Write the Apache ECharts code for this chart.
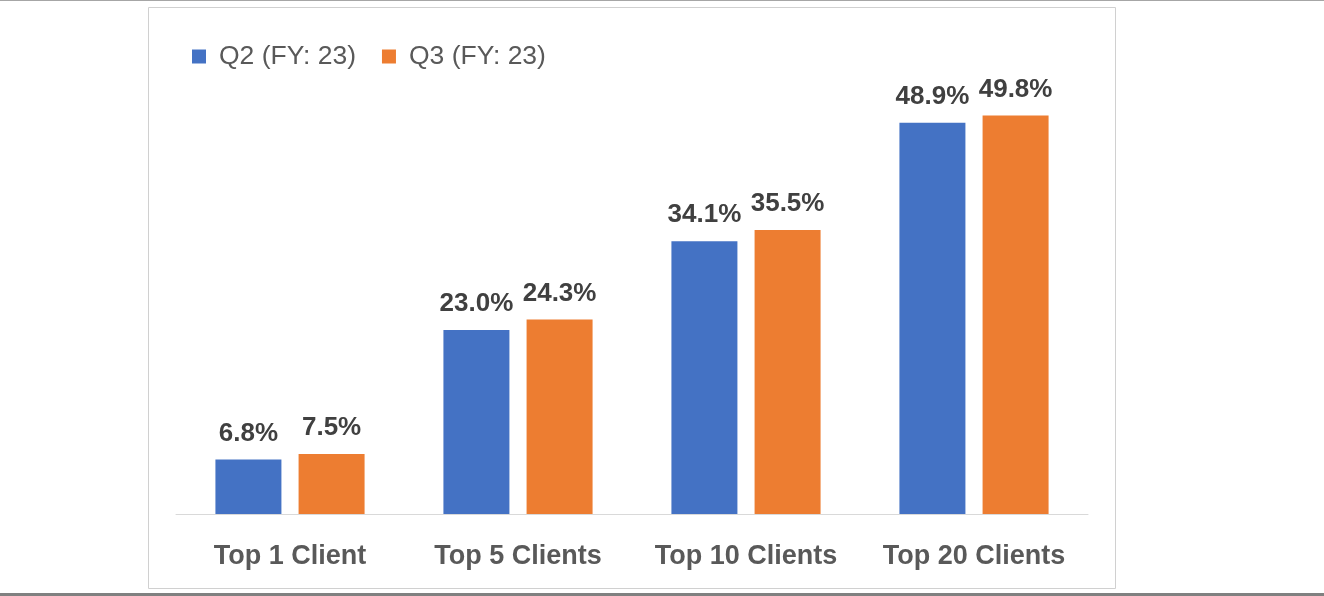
<!DOCTYPE html>
<html>
<head>
<meta charset="utf-8">
<script src="https://cdn.jsdelivr.net/npm/echarts@6/dist/echarts.min.js"></script>
<style>
html,body{margin:0;padding:0;background:#fff;}
#chart{width:1324px;height:596px;}
</style>
</head>
<body>
<div id="chart"></div>
<script>
const categories = ['Top 1 Client', 'Top 5 Clients', 'Top 10 Clients', 'Top 20 Clients'];
const seriesNames = ['Q2 (FY: 23)', 'Q3 (FY: 23)'];
const q2Values = [6.8, 23.0, 34.1, 48.9];
const q3Values = [7.5, 24.3, 35.5, 49.8];

const FONT = '"Liberation Sans", Arial, sans-serif';
const chart = echarts.init(document.getElementById('chart'), null, {renderer: 'canvas'});

const labelCfg = {
  show: true,
  position: 'top',
  distance: 13,
  fontFamily: FONT,
  fontSize: 26,
  fontWeight: 'bold',
  color: '#404040',
  formatter: p => p.value.toFixed(1) + '%'
};

chart.setOption({
  animation: false,
  backgroundColor: '#ffffff',
  graphic: [
    {type: 'rect', shape: {x: 0, y: 0, width: 1324, height: 1}, style: {fill: '#a6a6a6'}, silent: true},
    {type: 'rect', shape: {x: 0, y: 593, width: 1324, height: 3}, style: {fill: '#808080'}, silent: true},
    {type: 'rect', shape: {x: 148.5, y: 7.5, width: 967, height: 581}, style: {fill: 'none', stroke: '#d0d0d0', lineWidth: 1}, silent: true, z: -1}
  ],
  legend: {
    left: 192,
    top: 43,
    padding: 0,
    itemWidth: 14,
    itemHeight: 14,
    itemGap: 26,
    icon: 'rect',
    data: seriesNames,
    textStyle: {fontFamily: FONT, fontSize: 26.5, color: '#595959', padding: [0, 0, 0, 8]}
  },
  grid: {left: 176, right: 236, top: 34, bottom: 82, containLabel: false},
  xAxis: {
    type: 'category',
    data: categories,
    axisLine: {show: true, lineStyle: {color: '#d9d9d9', width: 1}},
    axisTick: {show: false},
    axisLabel: {interval: 0, hideOverlap: false, fontFamily: FONT, fontSize: 27, fontWeight: 'bold', color: '#595959', margin: 29}
  },
  yAxis: {
    type: 'value',
    min: 0,
    max: 60,
    show: false,
    splitLine: {show: false}
  },
  series: [
    {name: seriesNames[0], type: 'bar', data: q2Values, barWidth: 66, barGap: '26%', itemStyle: {color: '#4472c4'}, label: labelCfg},
    {name: seriesNames[1], type: 'bar', data: q3Values, barWidth: 66, barGap: '26%', itemStyle: {color: '#ed7d31'}, label: labelCfg}
  ]
});
</script>
</body>
</html>
